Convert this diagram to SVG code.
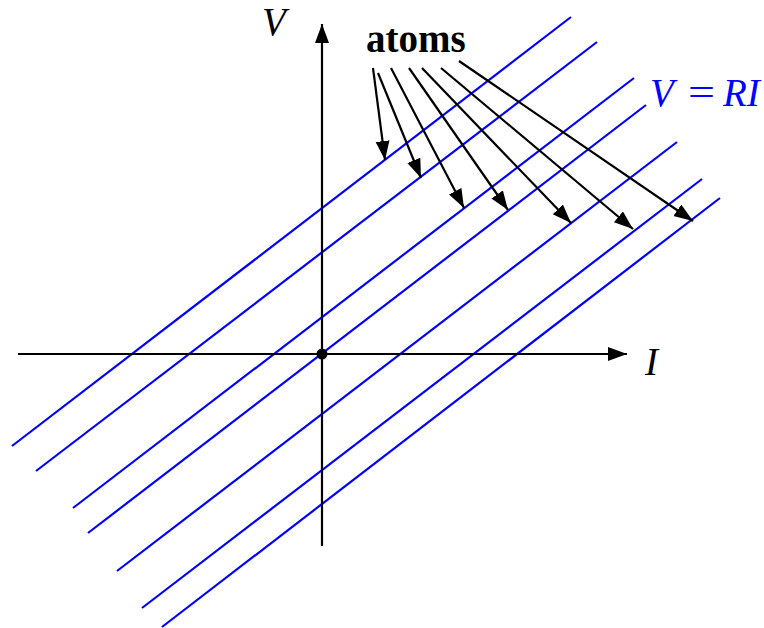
<svg xmlns="http://www.w3.org/2000/svg" width="764" height="628" viewBox="0 0 764 628">
<style>
.blue{stroke:#0000ff;stroke-width:2.2;fill:none}
.ax{stroke:#000;stroke-width:2.2;fill:none}
.ar{stroke:#000;stroke-width:2.2;fill:none;marker-end:url(#ah)}
.t{font-family:"Liberation Serif","Times New Roman",serif;font-size:39px}
.it{font-style:italic}
</style>
<defs>
<marker id="ah" markerUnits="userSpaceOnUse" markerWidth="22" markerHeight="16" refX="19" refY="7" orient="auto">
<path d="M0,0 L19,7 L0,14 Z" fill="#000"/>
</marker>
</defs>
<rect width="764" height="628" fill="#fff"/>
<g id="lines">
<line class="blue" x1="12" y1="446" x2="571" y2="17"/>
<line class="blue" x1="36" y1="471" x2="597" y2="42"/>
<line class="blue" x1="73" y1="508" x2="634" y2="78"/>
<line class="blue" x1="88" y1="533" x2="646" y2="105"/>
<line class="blue" x1="117" y1="571" x2="677" y2="142"/>
<line class="blue" x1="142" y1="608" x2="702" y2="179"/>
<line class="blue" x1="162" y1="627" x2="720" y2="198"/>
</g>
<g id="axes">
<line class="ar" x1="18" y1="354" x2="627" y2="354"/>
<line class="ar" x1="322" y1="546" x2="322" y2="24"/>
<circle cx="322" cy="354" r="5.5" fill="#000"/>
<text class="t it" x="262" y="35">V</text>
<text class="t it" x="645" y="375">I</text>
</g>
<g id="connectors">
<line class="ar" x1="373" y1="68" x2="385" y2="160"/>
<line class="ar" x1="378" y1="73" x2="421" y2="178"/>
<line class="ar" x1="391" y1="68" x2="464" y2="208"/>
<line class="ar" x1="409" y1="68" x2="508" y2="210"/>
<line class="ar" x1="422" y1="68" x2="571" y2="223"/>
<line class="ar" x1="441" y1="68" x2="633" y2="229"/>
<line class="ar" x1="459" y1="61" x2="693" y2="221"/>
</g>
<g id="atoms">
<text class="t" x="366" y="52" font-weight="bold" font-size="39">atoms</text>
</g>
<g id="formula" fill="#0000ff">
<text class="t" y="106"><tspan class="it" x="650">V</tspan><tspan x="688" textLength="27" lengthAdjust="spacingAndGlyphs">=</tspan><tspan class="it" x="723">RI</tspan></text>
</g>
</svg>
